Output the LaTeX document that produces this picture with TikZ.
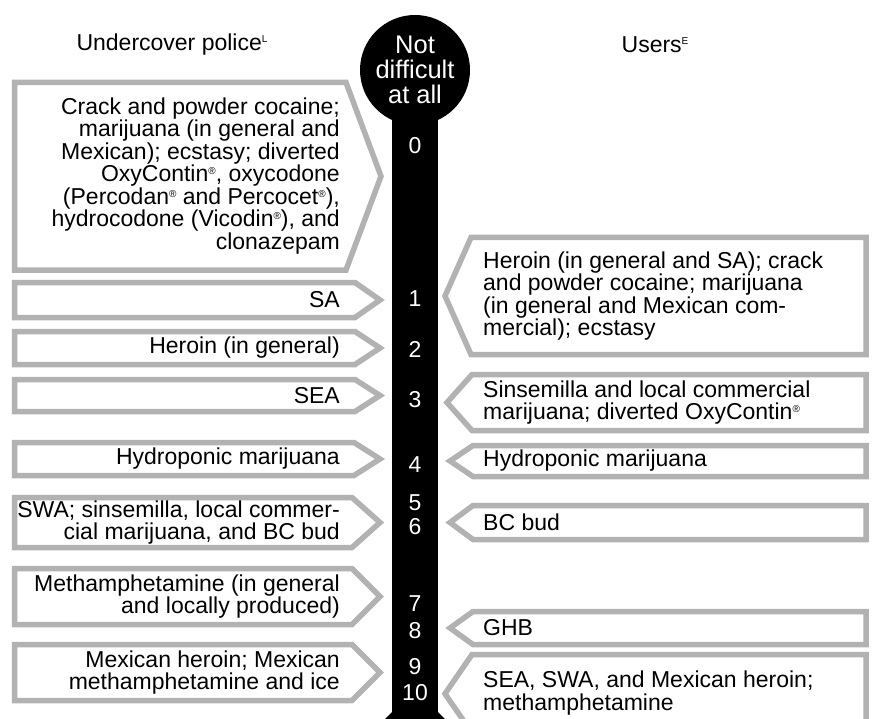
\documentclass[tikz,border=0pt]{standalone}
\usepackage{fontspec}
\setmainfont{Liberation Sans}
\definecolor{boxgray}{RGB}{178,178,178}
\newcommand{\drawleftbox}[4]{%
  \draw[box] (14.5,#1) -- (#3,#1) -- (#4,{(#1+#2)/2}) -- (#3,#2) -- (14.5,#2) -- cycle;}
\newcommand{\drawrightbox}[4]{%
  \draw[box] (866,#1) -- (#3,#1) -- (#4,{(#1+#2)/2}) -- (#3,#2) -- (866,#2) -- cycle;}
\newcommand{\reg}{\raisebox{7pt}{\fontsize{10}{10}\selectfont ®}}
\newcommand{\supl}[1]{\raisebox{8pt}{\fontsize{10}{10}\selectfont #1}}
\begin{document}
\begin{tikzpicture}[x=1pt,y=-1pt,
  box/.style={draw=boxgray,line width=5.5pt,line join=miter,fill=white},
  bodyfont/.style={font=\fontsize{23}{22.5}\selectfont},
  ltxt/.style={bodyfont,inner sep=0pt,align=right,anchor=east},
  rtxt/.style={bodyfont,inner sep=0pt,align=left,anchor=west},
  num/.style={bodyfont,text=white,inner sep=0pt},
  title/.style={bodyfont,inner sep=0pt}]
\useasboundingbox (0,0) rectangle (872,719);

% titles
\node[title] (tpolice) at (172,45) {Undercover police\supl{L}};
\node[title] (tusers) at (655,45) {Users\supl{E}};

% scale
\fill (415,70) circle (55pt);
\fill (392,100) rectangle (438,713);
\fill (392,712) -- (438,712) -- (445,719) -- (385,719) -- cycle;
\node[num,align=center,font=\fontsize{25.5}{25}\selectfont] (top) at (415,70) {Not\\difficult\\at all};
\node[num] (n0) at (415,146) {0};
\node[num] (n1) at (415,299) {1};
\node[num] (n2) at (415,349) {2};
\node[num] (n3) at (415,400) {3};
\node[num] (n4) at (415,465) {4};
\node[num] (n5) at (415,503) {5};
\node[num] (n6) at (415,527) {6};
\node[num] (n7) at (415,604) {7};
\node[num] (n8) at (415,631) {8};
\node[num] (n9) at (415,667) {9};
\node[num] (n10) at (415,693) {10};

% left boxes
\drawleftbox{82.5}{270}{346}{381}
\node[ltxt] (l0) at (340,176) {Crack and powder cocaine;\\marijuana (in general and\\Mexican); ecstasy; diverted\\OxyContin\reg, oxycodone\\(Percodan\reg{} and Percocet\reg),\\hydrocodone (Vicodin\reg), and\\clonazepam};
\drawleftbox{282.5}{317.5}{355}{380}
\node[ltxt] (l1) at (340,300) {SA};
\drawleftbox{331.5}{364.5}{355}{380}
\node[ltxt] (l2) at (340,348) {Heroin (in general)};
\drawleftbox{379.5}{411.5}{355}{380}
\node[ltxt] (l3) at (340,395.5) {SEA};
\drawleftbox{442.5}{475.5}{354}{380}
\node[ltxt] (l4) at (340,459) {Hydroponic marijuana};
\drawleftbox{497.5}{547.5}{352}{380}
\node[ltxt] (l6) at (340,522.5) {SWA; sinsemilla, local commer-\\cial marijuana, and BC bud};
\drawleftbox{568.5}{624.5}{352}{380}
\node[ltxt] (l7) at (340,596.5) {Methamphetamine (in general\\and locally produced)};
\drawleftbox{644.5}{700.5}{352}{380}
\node[ltxt] (l9) at (340,672.5) {Mexican heroin; Mexican\\methamphetamine and ice};

% right boxes
\drawrightbox{237.5}{354.5}{471}{445}
\node[rtxt] (r1) at (483,296) {Heroin (in general and SA); crack\\and powder cocaine; marijuana\\(in general and Mexican com-\\mercial); ecstasy};
\drawrightbox{374.5}{430.5}{472}{447}
\node[rtxt] (r3) at (483,402.5) {Sinsemilla and local commercial\\marijuana; diverted OxyContin\reg};
\drawrightbox{445.5}{476.5}{473}{450}
\node[rtxt] (r4) at (483,461) {Hydroponic marijuana};
\drawrightbox{505.5}{539.5}{473}{450}
\node[rtxt] (r6) at (483,522.5) {BC bud};
\drawrightbox{611.5}{644.5}{473}{450}
\node[rtxt] (r8) at (483,628) {GHB};
\drawrightbox{654.5}{733}{472}{445}
\node[rtxt] (r10) at (483,693) {SEA, SWA, and Mexican heroin;\\methamphetamine};
\end{tikzpicture}
\end{document}
